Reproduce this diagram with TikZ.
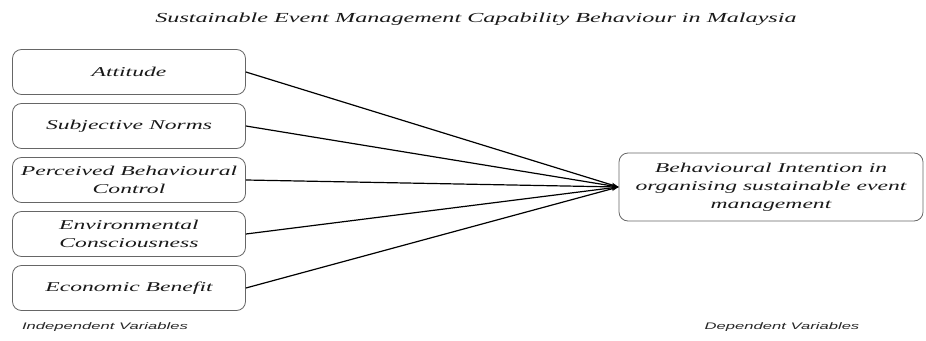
\documentclass[tikz,border=0pt]{standalone}
\usepackage{fontspec}
\usetikzlibrary{arrows.meta}
\newfontfamily\boxfont[FakeStretch=1.75]{Liberation Serif}
\newfontfamily\labfont[FakeStretch=1.75]{Liberation Sans}

\begin{document}
\begin{tikzpicture}[x=1pt,y=-1pt,
  varbox/.style={draw=black!60, line width=0.8pt, rounded corners=9pt,
    minimum width=233pt, minimum height=45pt, inner sep=0pt, align=center,
    text=black!90, font=\boxfont\itshape\fontsize{13.5}{18}\selectfont},
  link/.style={line width=1.2pt, -{Stealth[length=7pt,width=4.5pt]}},
  caption/.style={text=black!85, font=\labfont\itshape\fontsize{9.5}{11}\selectfont}]
\useasboundingbox (0,0) rectangle (926,340);

\node[text=black!90, font=\boxfont\itshape\fontsize{13.8}{15}\selectfont] (title) at (476,19)
  {Sustainable Event Management Capability Behaviour in Malaysia};

% independent variables
\node[varbox] (att) at (129,72) {Attitude};
\node[varbox] (sn) at (129,126) {Subjective Norms};
\node[varbox] (pbc) at (129,180) {Perceived Behavioural\\Control};
\node[varbox] (env) at (129,234) {Environmental\\Consciousness};
\node[varbox] (eco) at (129,288) {Economic Benefit};

% dependent variable
\node[varbox, minimum width=304pt, minimum height=68pt] (bi) at (771,187)
  {Behavioural Intention in\\organising sustainable event\\management};

\draw[link] (att.east) -- (bi.west);
\draw[link] (sn.east) -- (bi.west);
\draw[link] (pbc.east) -- (bi.west);
\draw[link] (env.east) -- (bi.west);
\draw[link] (eco.east) -- (bi.west);

\node[caption] (indep) at (105,327) {Independent Variables};
\node[caption] (dep) at (782,327) {Dependent Variables};

\end{tikzpicture}
\end{document}
